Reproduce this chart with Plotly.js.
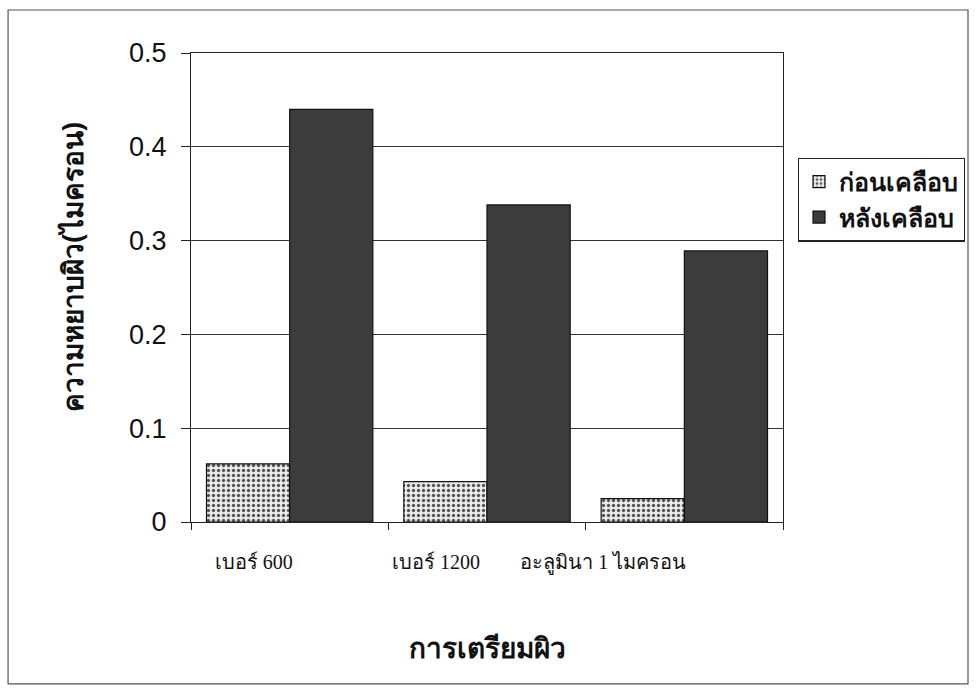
<!DOCTYPE html>
<html>
<head>
<meta charset="utf-8">
<script src="https://cdn.plot.ly/plotly-3.0.1.min.js"></script>
<style>
  html, body { margin: 0; padding: 0; background: #ffffff; }
  #chart { width: 977px; height: 692px; }
</style>
</head>
<body>
<div id="chart"></div>
<script>
// Surface preparation methods
const categories = ['เบอร์ 600', 'เบอร์ 1200', 'อะลูมินา 1 ไมครอน'];
// Surface roughness (micron) before and after coating
const beforeCoating = [0.062, 0.043, 0.025];
const afterCoating = [0.440, 0.338, 0.289];
const seriesNames = ['ก่อนเคลือบ', 'หลังเคลือบ'];
const yTicks = [0, 0.1, 0.2, 0.3, 0.4, 0.5];
const yTickText = ['0', '0.1', '0.2', '0.3', '0.4', '0.5'];
const xTitle = 'การเตรียมผิว';
const yTitle = 'ความหยาบผิว(ไมครอน)';

// category labels sit slightly left of their slot; trailing no-break spaces nudge them
const pad = n => '\u00A0'.repeat(n);
const xTickText = [categories[0] + pad(0), categories[1] + pad(6), categories[2] + pad(18)];

const traces = [
  {
    type: 'bar',
    name: seriesNames[0],
    x: categories,
    y: beforeCoating,
    marker: {
      color: '#e4e4e4',
      line: { color: '#111111', width: 1.2 },
      pattern: { shape: '.', fgcolor: '#555555', bgcolor: '#ececec', size: 5, solidity: 0.35 }
    },
    hoverinfo: 'x+y'
  },
  {
    type: 'bar',
    name: seriesNames[1],
    x: categories,
    y: afterCoating,
    marker: {
      color: '#3c3c3c',
      line: { color: '#111111', width: 1.2 }
    },
    hoverinfo: 'x+y'
  }
];

const thaiSans = 'Noto Sans, DejaVu Sans, sans-serif';

const layout = {
  width: 977,
  height: 692,
  margin: { l: 191, r: 194, t: 53, b: 170 },
  paper_bgcolor: '#ffffff',
  plot_bgcolor: '#ffffff',
  barmode: 'group',
  bargap: 0.157,
  bargroupgap: 0,
  showlegend: true,
  legend: {
    x: 1.025, xanchor: 'left',
    y: 0.777, yanchor: 'top',
    bordercolor: '#222222', borderwidth: 1.2,
    bgcolor: '#ffffff',
    font: { family: thaiSans, size: 25, color: '#111111', weight: 'bold' },
    itemwidth: 30,
    tracegroupgap: 0
  },
  xaxis: {
    type: 'category',
    automargin: false,
    showline: true, linecolor: '#222222', linewidth: 1.2, mirror: true,
    ticks: 'outside', tickson: 'boundaries', ticklen: 7, tickcolor: '#222222',
    ticklabelstandoff: 22,
    ticklabelshift: -36,
    tickangle: 0,
    tickmode: 'array', tickvals: categories, ticktext: xTickText,
    tickfont: { family: 'Liberation Serif, serif', size: 20, color: '#111111' },
    showgrid: false,
    title: {
      text: xTitle,
      font: { family: thaiSans, size: 28, color: '#111111', weight: 'bold' },
      standoff: 64
    }
  },
  yaxis: {
    range: [0, 0.5],
    automargin: false,
    tickmode: 'array', tickvals: yTicks, ticktext: yTickText,
    showline: true, linecolor: '#222222', linewidth: 1.2, mirror: true,
    ticks: 'outside', ticklen: 9, tickcolor: '#222222',
    ticklabelstandoff: 9,
    tickfont: { family: 'Liberation Sans, Arial, sans-serif', size: 27, color: '#111111' },
    showgrid: true, gridcolor: '#333333', gridwidth: 1,
    zeroline: false
  },
  annotations: [
    {
      // vertical axis title, set a little above the plot's middle
      text: yTitle,
      textangle: -90,
      xref: 'paper', yref: 'paper',
      x: -0.201, y: 0.544,
      xanchor: 'center', yanchor: 'middle',
      showarrow: false,
      font: { family: thaiSans, size: 28, color: '#111111', weight: 'bold' }
    }
  ],
  shapes: [
    {
      type: 'rect', xref: 'paper', yref: 'paper',
      x0: -0.309, x1: 1.3125, y0: -0.345, y1: 1.0917,
      line: { color: '#555555', width: 1.2 }, fillcolor: 'rgba(0,0,0,0)', layer: 'below'
    }
  ]
};

Plotly.newPlot('chart', traces, layout, { displayModeBar: false, responsive: false });
</script>
</body>
</html>
